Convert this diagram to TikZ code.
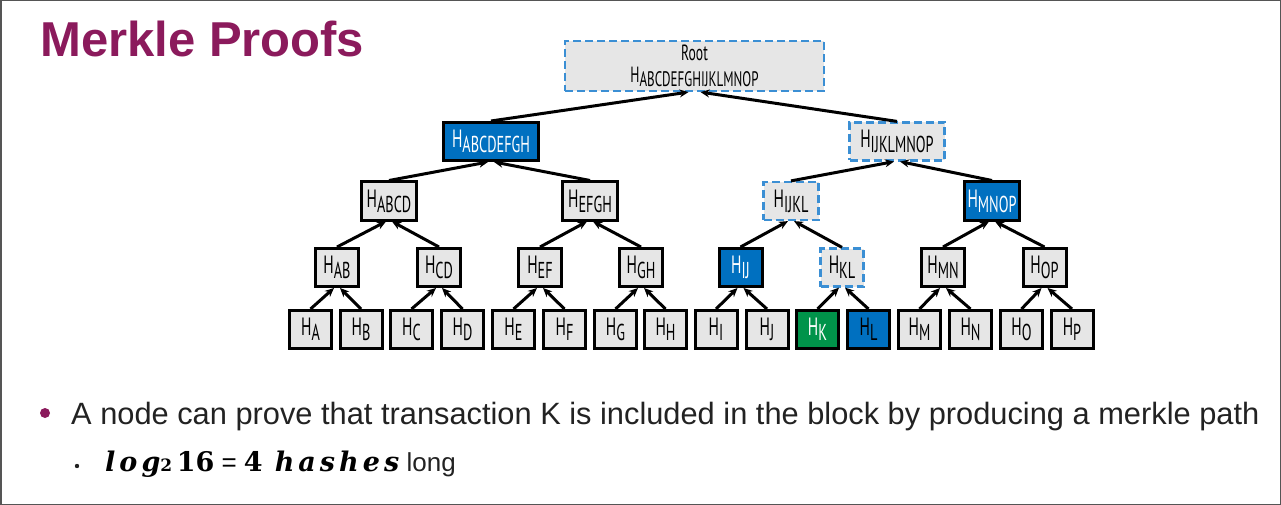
\documentclass[tikz,border=0pt]{standalone}
\usepackage{fontspec}
\usetikzlibrary{arrows.meta}
\newfontfamily\sansf{Liberation Sans}
\newfontfamily\boxf{PT Sans}[FakeStretch=0.62]
\newfontfamily\mathbi{DejaVu Serif}[LetterSpace=15]
\newfontfamily\mathbu{DejaVu Serif}
\definecolor{titlec}{HTML}{8B1A5C}
\definecolor{boxgray}{HTML}{E6E6E6}
\definecolor{mblue}{HTML}{0070C0}
\definecolor{mgreen}{HTML}{00934A}
\definecolor{dblue}{HTML}{3B8FD4}
\definecolor{txtc}{HTML}{222222}
\definecolor{borderc}{HTML}{555555}
\newcommand\hsb[1]{{\fontsize{25}{25}\selectfont H}\raisebox{-5pt}{\fontsize{23}{23}\selectfont #1}}
\newcommand\hsr[1]{{\fontsize{22}{22}\selectfont H}\raisebox{-4pt}{\fontsize{21}{21}\selectfont #1}}
\tikzset{
  hbox/.style={rectangle, draw=black, line width=3pt, fill=boxgray, inner sep=0pt,
    font=\boxf, text=black, minimum height=38},
  leaf/.style={hbox, minimum width=42},
  pair/.style={hbox, minimum width=43},
  quad/.style={hbox, minimum width=55},
  oct/.style={hbox, minimum width=95},
  bluebox/.style={fill=mblue, text=white},
  greenbox/.style={fill=mgreen, text=white},
  proofbox/.style={draw=dblue, line width=2.2pt, dash pattern=on 8pt off 4pt},
  edge/.style={line width=3pt, -{Stealth[length=9pt,width=8pt]}},
}
\begin{document}
\begin{tikzpicture}[x=1pt,y=-1pt]
\useasboundingbox (0,0) rectangle (1281,505);
\draw[borderc, line width=1.5pt] (0.75,0.75) rectangle (1280.25,504.25);
% title
\node[anchor=base west, inner sep=0pt, font=\sansf\bfseries\fontsize{49}{49}\selectfont, text=titlec] (title) at (40,57) {Merkle Proofs};
% root
\node[hbox, proofbox, minimum width=259, minimum height=50, align=center] (root) at (694.5,66)
  {{\fontsize{22}{22}\selectfont Root}\\[5pt]\hsr{ABCDEFGHIJKLMNOP}};
% level 1
\node[oct, bluebox] (n1a) at (491,141.5) {\hsb{ABCDEFGH}};
\node[oct, proofbox] (n1b) at (897,141.5) {\hsb{IJKLMNOP}};
% level 2
\node[quad] (n2a) at (389,201) {\hsb{ABCD}};
\node[quad] (n2b) at (590,201) {\hsb{EFGH}};
\node[quad, proofbox] (n2c) at (791,201) {\hsb{IJKL}};
\node[quad, bluebox] (n2d) at (992,201) {\hsb{MNOP}};
% level 3
\node[pair] (n3a) at (337,267.5) {\hsb{AB}};
\node[pair] (n3b) at (439,267.5) {\hsb{CD}};
\node[pair] (n3c) at (540,267.5) {\hsb{EF}};
\node[pair] (n3d) at (641,267.5) {\hsb{GH}};
\node[pair, bluebox] (n3e) at (740.5,267.5) {\hsb{IJ}};
\node[pair, proofbox] (n3f) at (842,267.5) {\hsb{KL}};
\node[pair] (n3g) at (943,267.5) {\hsb{MN}};
\node[pair] (n3h) at (1044.5,267.5) {\hsb{OP}};
% leaves
\node[leaf] (lA) at (310.5,329.5) {\hsb{A}};
\node[leaf] (lB) at (361,329.5) {\hsb{B}};
\node[leaf] (lC) at (411.5,329.5) {\hsb{C}};
\node[leaf] (lD) at (462.5,329.5) {\hsb{D}};
\node[leaf] (lE) at (513.5,329.5) {\hsb{E}};
\node[leaf] (lF) at (564.5,329.5) {\hsb{F}};
\node[leaf] (lG) at (615.5,329.5) {\hsb{G}};
\node[leaf] (lH) at (665.5,329.5) {\hsb{H}};
\node[leaf] (lI) at (716,329.5) {\hsb{I}};
\node[leaf] (lJ) at (767,329.5) {\hsb{J}};
\node[leaf, greenbox] (lK) at (817.5,329.5) {\hsb{K}};
\node[leaf, fill=mblue] (lL) at (868.5,329.5) {\hsb{L}};
\node[leaf] (lM) at (919.5,329.5) {\hsb{M}};
\node[leaf] (lN) at (970.5,329.5) {\hsb{N}};
\node[leaf] (lO) at (1021.5,329.5) {\hsb{O}};
\node[leaf] (lP) at (1072,329.5) {\hsb{P}};
% edges
\draw[edge] (n1a.north) -- ([xshift=-6pt]root.south);
\draw[edge] (n1b.north) -- ([xshift=6pt]root.south);
\foreach \c/\p/\s in {n2a/n1a/-3, n2b/n1a/3, n2c/n1b/-3, n2d/n1b/3,
  n3a/n2a/-3, n3b/n2a/3, n3c/n2b/-3, n3d/n2b/3, n3e/n2c/-3, n3f/n2c/3, n3g/n2d/-3, n3h/n2d/3,
  lA/n3a/-3, lB/n3a/3, lC/n3b/-3, lD/n3b/3, lE/n3c/-3, lF/n3c/3, lG/n3d/-3, lH/n3d/3,
  lI/n3e/-3, lJ/n3e/3, lK/n3f/-3, lL/n3f/3, lM/n3g/-3, lN/n3g/3, lO/n3h/-3, lP/n3h/3}
  \draw[edge] (\c.north) -- ([xshift=\s pt]\p.south);
% bullets
\fill[titlec] (45,413) circle (5pt);
\node[anchor=base west, inner sep=0pt, font=\sansf\fontsize{30.8}{30.8}\selectfont, text=txtc] (b1) at (71,424)
  {A node can prove that transaction K is included in the block by producing a merkle path};
\fill[txtc] (77,466) circle (2.2pt);
\node[anchor=base west, inner sep=0pt, font=\sansf\fontsize{26}{26}\selectfont, text=black] (b2) at (105,471)
  {{\fontsize{27}{27}\selectfont{\mathbi\bfseries\itshape log}{\mathbu\bfseries\fontsize{17}{17}\selectfont 2}\,{\mathbu\bfseries 16}} = {\fontsize{27}{27}\selectfont{\mathbu\bfseries 4}\, {\mathbi\bfseries\itshape hashes}} {\color{txtc}long}};
\end{tikzpicture}
\end{document}
